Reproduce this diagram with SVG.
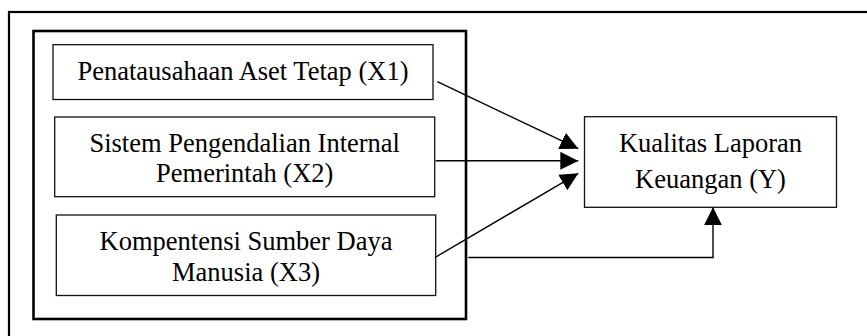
<svg xmlns="http://www.w3.org/2000/svg" width="867" height="336" viewBox="0 0 867 336">
<style>
text{font-family:"Liberation Serif","Times New Roman",serif;font-size:26.5px;fill:#000;text-anchor:middle}
.box{fill:#fff;stroke:#111;stroke-width:1.3}
.frame{fill:none;stroke:#000}
.conn{stroke:#000;stroke-width:1.4;fill:none}
</style>
<defs>
<marker id="ah" markerUnits="userSpaceOnUse" markerWidth="18" markerHeight="18" viewBox="0 0 16 16" refX="16" refY="8" orient="auto">
<path d="M0,0 L16,8 L0,16 Z" fill="#000"/>
</marker>
</defs>
<rect class="frame" x="9" y="12" width="880" height="340" stroke-width="2.2"/>
<rect class="frame" x="33.5" y="31" width="432.5" height="288" stroke-width="2.6"/>
<g id="x1">
<rect class="box" x="53" y="44.7" width="380" height="54.8"/>
<text x="243" y="80">Penatausahaan Aset Tetap (X1)</text>
</g>
<g id="x2">
<rect class="box" x="54.7" y="117" width="380" height="79.7"/>
<text x="244.7" y="151.7">Sistem Pengendalian Internal</text>
<text x="244.7" y="181.5">Pemerintah (X2)</text>
</g>
<g id="x3">
<rect class="box" x="56.3" y="215" width="379.4" height="80.5"/>
<text x="246" y="249.5">Kompentensi Sumber Daya</text>
<text x="246" y="281">Manusia (X3)</text>
</g>
<g id="y">
<rect class="box" x="584.5" y="116.7" width="252" height="90.6"/>
<text x="710.5" y="151.7">Kualitas Laporan</text>
<text x="710.5" y="187.5">Keuangan (Y)</text>
</g>
<g id="connectors">
<line class="conn" x1="437.3" y1="81.7" x2="578.3" y2="148.7" marker-end="url(#ah)"/>
<line class="conn" x1="435.7" y1="160.8" x2="578.3" y2="160.8" marker-end="url(#ah)"/>
<line class="conn" x1="435" y1="257.5" x2="578.3" y2="173.3" marker-end="url(#ah)"/>
<polyline class="conn" points="468.3,257.5 713,257.5 713,207.3" marker-end="url(#ah)"/>
</g>
</svg>
